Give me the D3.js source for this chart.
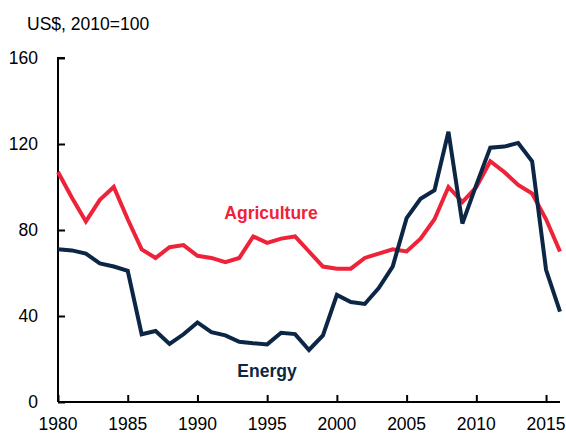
<!DOCTYPE html>
<html>
<head>
<meta charset="utf-8">
<script src="https://cdn.jsdelivr.net/npm/d3@7"></script>
<style>
  body { margin: 0; background: #fff; }
  text { font-family: "Liberation Sans", Arial, sans-serif; }
</style>
</head>
<body>
<div id="chart"></div>
<script>
const years = d3.range(1980, 2017);
const agriculture = [107, 95, 84, 94, 100, 85, 71, 67, 72, 73, 68, 67, 65, 67, 77, 74, 76, 77, 70, 63,
  62, 62, 67, 69, 71, 70, 76, 85, 100, 93, 100, 112, 107, 101, 97, 85, 70];
const energy = [71, 70.5, 69, 64.5, 63, 61, 31.5, 33, 27, 31.5, 37, 32.5, 31, 28, 27.3, 26.8, 32.2, 31.6, 24.2, 31,
  49.8, 46.5, 45.6, 53, 63, 85.5, 94.5, 98.5, 125.7, 83, 101, 118.3, 118.8, 120.5, 112, 61.5, 42];
const yTicks = [0, 40, 80, 120, 160];
const xTicks = [1980, 1985, 1990, 1995, 2000, 2005, 2010, 2015];

const width = 566, height = 437;
const margin = {top: 58, right: 6, bottom: 35, left: 58};

const svg = d3.select("#chart").append("svg")
    .attr("width", width)
    .attr("height", height);

const x = d3.scaleLinear()
    .domain([1980, 2016])
    .range([margin.left, width - margin.right]);

const y = d3.scaleLinear()
    .domain([0, 160])
    .range([height - margin.bottom, margin.top]);

// y axis, ticks point inward
const yAxis = svg.append("g")
    .attr("transform", `translate(${margin.left},0)`)
    .call(d3.axisRight(y).tickValues(yTicks).tickSize(7).tickFormat(""));
yAxis.selectAll("line, path").attr("stroke", "#000").attr("stroke-width", 2);
yAxis.select(".domain").attr("d", `M7,${y(160)}H0V${y(0)}`);

svg.append("g").selectAll("text")
  .data(yTicks)
  .join("text")
    .attr("x", 38)
    .attr("y", d => y(d) + 6)
    .attr("text-anchor", "end")
    .attr("font-size", 17.5)
    .text(d => d);

// x axis, ticks point upward
const xAxis = svg.append("g")
    .attr("transform", `translate(0,${y(0)})`)
    .call(d3.axisTop(x).tickValues(xTicks).tickSize(7).tickFormat(""));
xAxis.selectAll("line, path").attr("stroke", "#000").attr("stroke-width", 2);
xAxis.select(".domain").attr("d", `M${x(1980)},0H${x(2016)}`);

svg.append("g").selectAll("text")
  .data(xTicks)
  .join("text")
    .attr("x", d => x(d))
    .attr("y", y(0) + 28)
    .attr("text-anchor", "middle")
    .attr("font-size", 17.5)
    .text(d => d);

svg.append("text")
    .attr("x", 27)
    .attr("y", 30)
    .attr("font-size", 17.5)
    .text("US$, 2010=100");

const line = d3.line()
    .x((d, i) => x(years[i]))
    .y(d => y(d));

svg.append("path")
    .datum(agriculture)
    .attr("fill", "none")
    .attr("stroke", "#EE2238")
    .attr("stroke-width", 4)
    .attr("stroke-linejoin", "miter")
    .attr("d", line);

svg.append("path")
    .datum(energy)
    .attr("fill", "none")
    .attr("stroke", "#0C2646")
    .attr("stroke-width", 4)
    .attr("stroke-linejoin", "miter")
    .attr("d", line);

svg.append("text")
    .attr("x", 271)
    .attr("y", 219)
    .attr("text-anchor", "middle")
    .attr("font-size", 17.5)
    .attr("font-weight", "bold")
    .attr("fill", "#EE2238")
    .text("Agriculture");

svg.append("text")
    .attr("x", 267)
    .attr("y", 377)
    .attr("text-anchor", "middle")
    .attr("font-size", 17.5)
    .attr("font-weight", "bold")
    .attr("fill", "#0C2646")
    .text("Energy");
</script>
</body>
</html>
